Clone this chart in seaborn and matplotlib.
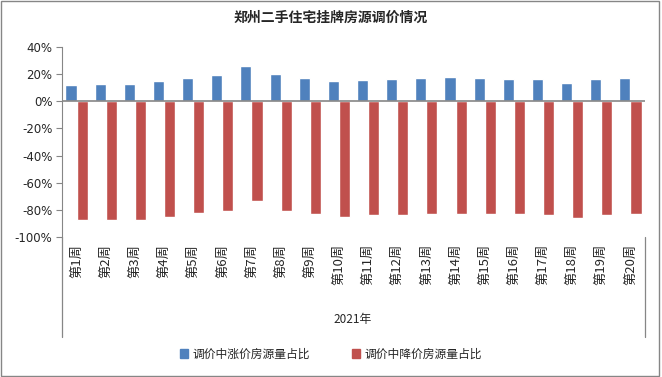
import matplotlib
matplotlib.use('Agg')
import matplotlib.pyplot as plt
import seaborn as sns
import pandas as pd
from matplotlib.lines import Line2D
from matplotlib.patches import Rectangle

# данные
weeks = [f'第{i}周' for i in range(1, 21)]
up_share = [11.7, 12.4, 12.4, 14.6, 16.8, 19.0, 26.3, 19.8, 16.8, 14.6,
            15.4, 16.1, 16.8, 17.6, 16.8, 16.1, 16.1, 13.2, 16.1, 16.8]
down_share = [-87.8, -87.8, -87.8, -84.9, -82.4, -81.2, -73.2, -80.5, -83.4, -84.9,
              -84.1, -84.1, -82.7, -82.7, -82.7, -83.4, -84.1, -86.3, -84.1, -82.7]
series_names = ['调价中涨价房源量占比', '调价中降价房源量占比']
colors = ['#4F81BD', '#C0504D']
title = '郑州二手住宅挂牌房源调价情况'
group_label = '2021年'

df = pd.DataFrame({
    'week': weeks * 2,
    'value': up_share + down_share,
    'series': [series_names[0]] * len(weeks) + [series_names[1]] * len(weeks),
})

sns.set_style('white')
plt.rcParams['font.family'] = ['Noto Sans CJK SC', 'DejaVu Sans']

fig = plt.figure(figsize=(6.62, 3.77), dpi=100)
ax = fig.add_axes([62 / 662, 1 - 237 / 377, (645 - 62) / 662, (237 - 47) / 377])

sns.barplot(data=df, x='week', y='value', hue='series', palette=colors,
            width=0.76, dodge=True, saturation=1, ax=ax, legend=False)

ax.set_ylim(-100, 40)
ax.set_xlim(-0.5, len(weeks) - 0.5)
yt = list(range(-100, 41, 20))
ax.set_yticks(yt)
ax.set_yticklabels([f'{v}%' for v in yt], fontsize=8.5, family=['DejaVu Sans'])
ax.tick_params(axis='y', direction='out', length=4, color='#868686', pad=3, left=True)
ax.tick_params(axis='x', length=0, pad=5)
ax.set_xticks(range(len(weeks)))
ax.set_xticklabels(weeks, rotation=90, fontsize=9.5, va='top')
ax.set_xlabel('')
ax.set_ylabel('')

for s in ['top', 'right', 'bottom']:
    ax.spines[s].set_visible(False)
ax.spines['left'].set_color('#868686')
ax.axhline(0, color='#868686', lw=1.2, zorder=3)

# линии мультиуровневой оси категорий
fig.add_artist(Line2D([62 / 662, 62 / 662], [1 - 237 / 377, 1 - 337 / 377], color='#868686', lw=0.9))
fig.add_artist(Line2D([645 / 662, 645 / 662], [1 - 237 / 377, 1 - 337 / 377], color='#868686', lw=0.9))
fig.text(353 / 662, 1 - 320 / 377, group_label, ha='center', va='center', fontsize=8.5)

fig.text(0.5, 1 - 18 / 377, title, ha='center', va='center', fontsize=10, fontweight='bold')

handles = [Rectangle((0, 0), 1, 1, color=c) for c in colors]
fig.legend(handles, series_names, loc='center', bbox_to_anchor=(0.5, 1 - 354 / 377),
           ncol=2, frameon=False, fontsize=8.5, handlelength=0.7, handleheight=0.7,
           handletextpad=0.4, columnspacing=3.5)

fig.add_artist(Rectangle((0.002, 0.003), 0.994, 0.994, transform=fig.transFigure,
                         fill=False, edgecolor='#868686', lw=1))

fig.savefig('out.png', dpi=100)
